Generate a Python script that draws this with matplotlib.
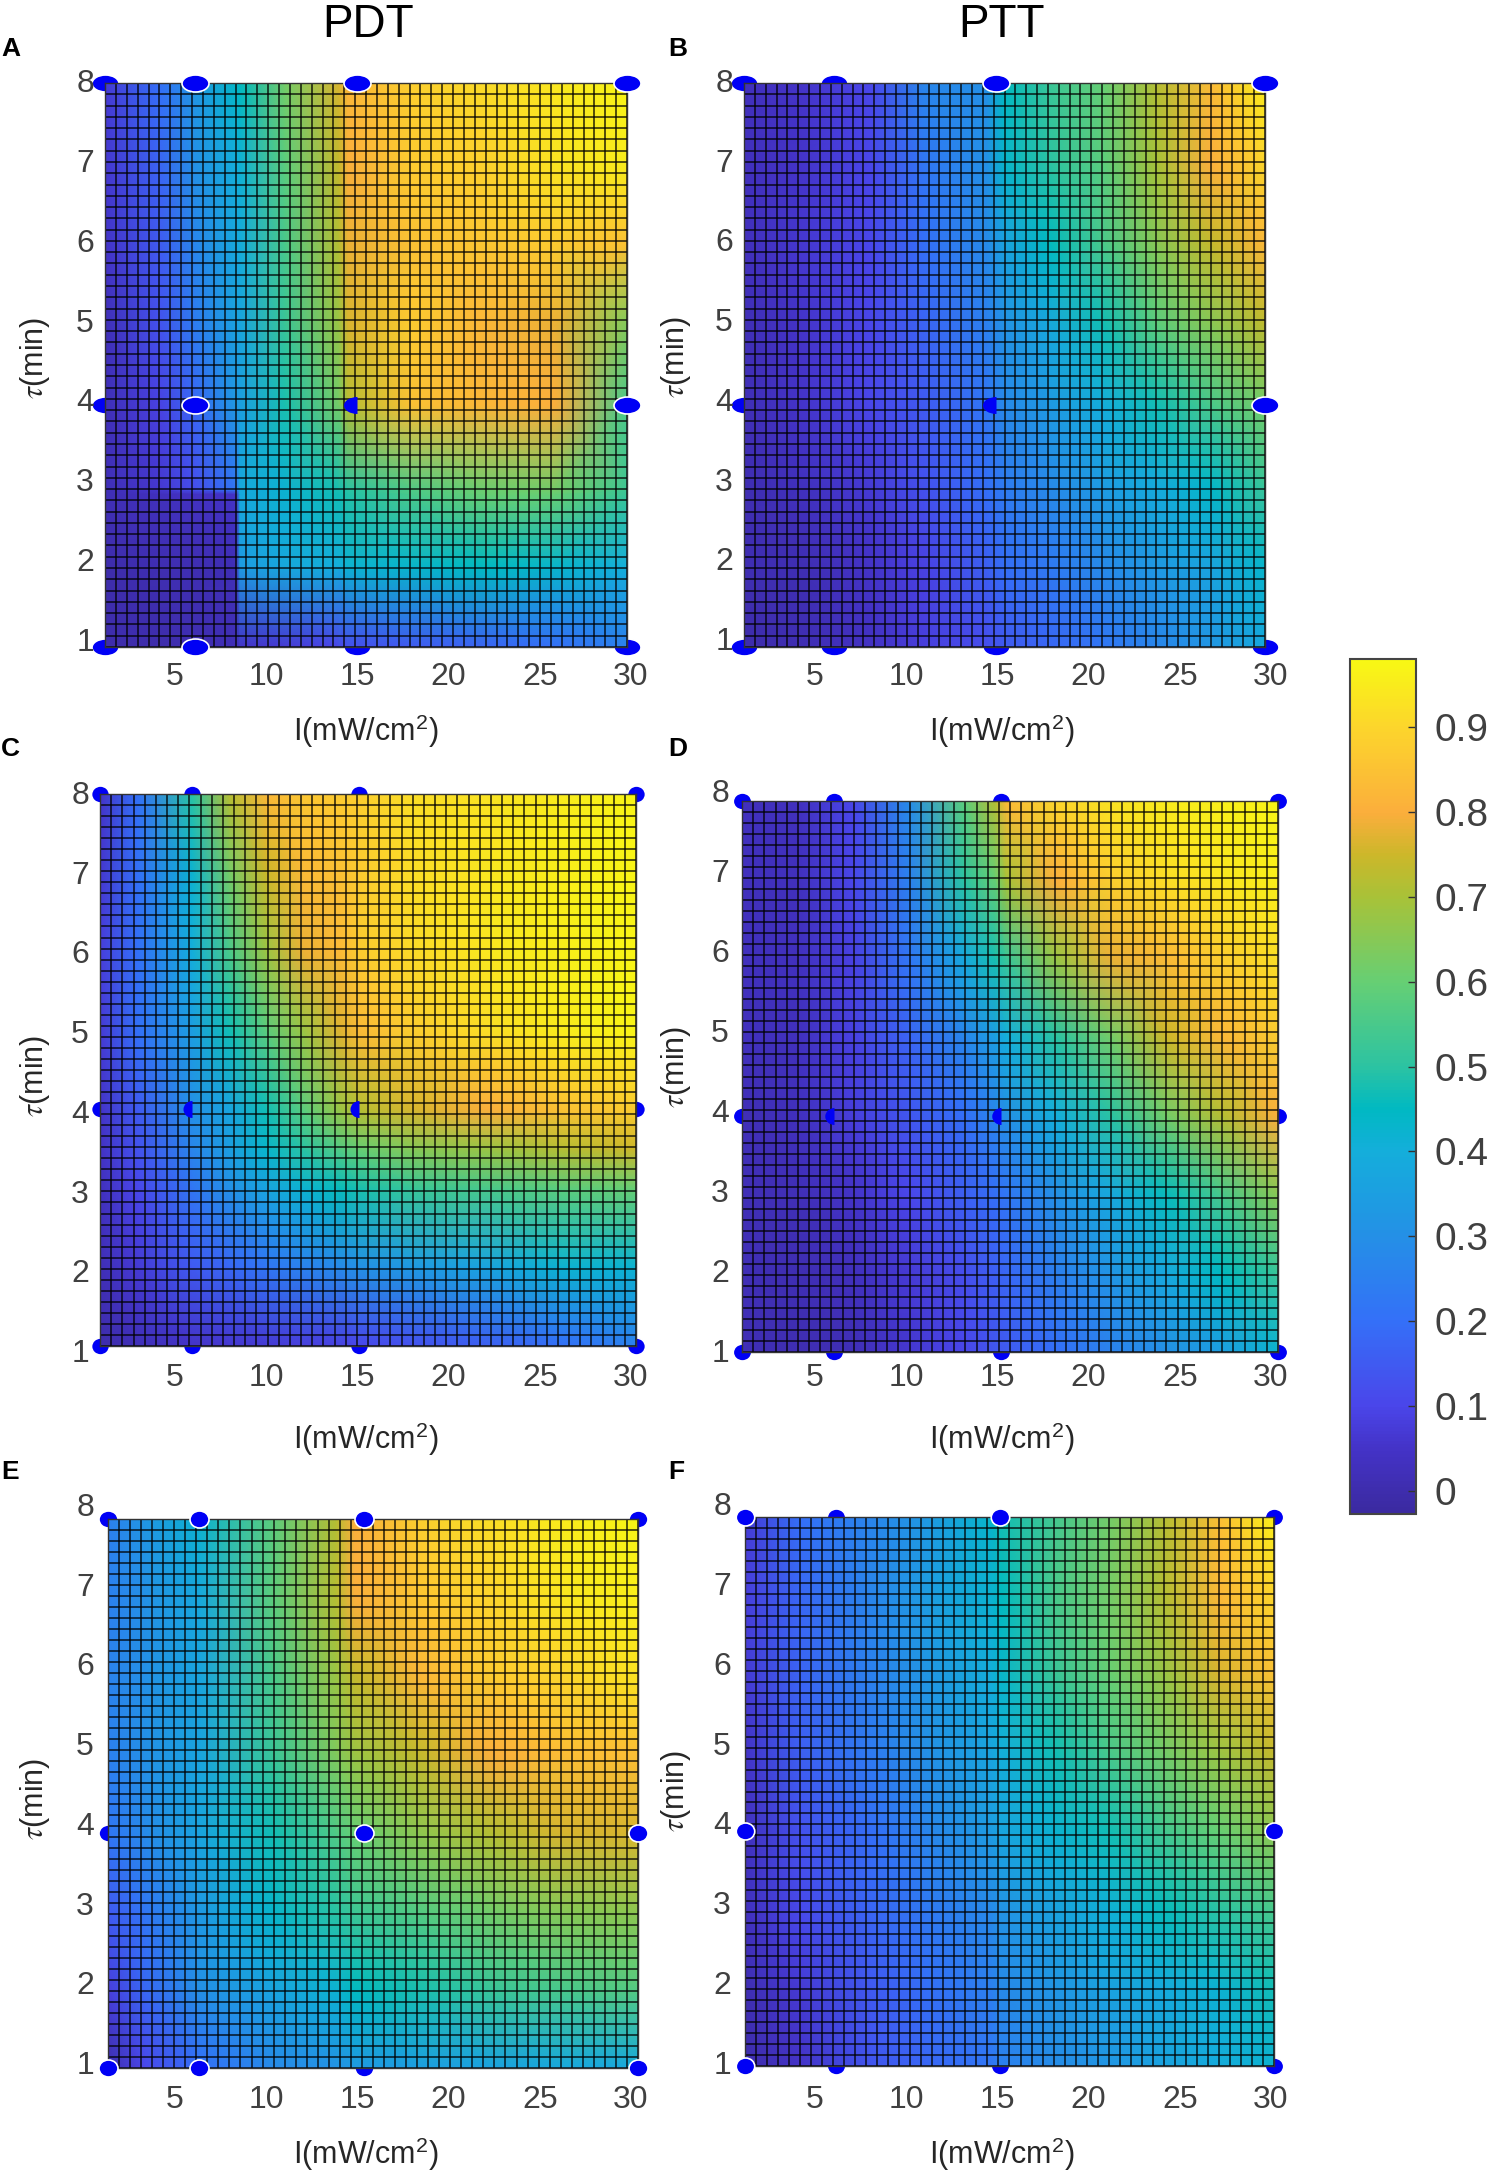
import numpy as np
import matplotlib
matplotlib.use("Agg")
import matplotlib.pyplot as plt
from matplotlib.colors import LinearSegmentedColormap, Normalize
from matplotlib.cm import ScalarMappable
from matplotlib.markers import MarkerStyle
from matplotlib.transforms import Affine2D

plt.rcParams["font.family"] = ["Liberation Sans", "DejaVu Sans"]
plt.rcParams["mathtext.fontset"] = "stix"

W, H = 1493, 2175

# values, rows go from tau low to tau high
A_I = [1, 4, 6, 8.3, 8.5, 11, 14, 14.5, 18, 22, 26, 30]
A_TAU = [1, 2, 2.9, 2.95, 4, 5, 6, 7, 8]
A_Z = [
    [0.00, 0.00, 0.01, 0.02, 0.05, 0.07, 0.10, 0.12, 0.15, 0.17, 0.20, 0.25],
    [0.00, 0.01, 0.01, 0.02, 0.34, 0.38, 0.40, 0.42, 0.43, 0.45, 0.43, 0.40],
    [0.02, 0.03, 0.04, 0.05, 0.38, 0.42, 0.47, 0.49, 0.55, 0.60, 0.60, 0.52],
    [0.02, 0.06, 0.12, 0.22, 0.38, 0.42, 0.48, 0.50, 0.56, 0.61, 0.62, 0.53],
    [0.02, 0.09, 0.18, 0.33, 0.35, 0.48, 0.62, 0.72, 0.85, 0.82, 0.80, 0.55],
    [0.02, 0.13, 0.24, 0.36, 0.37, 0.52, 0.68, 0.76, 0.87, 0.82, 0.78, 0.64],
    [0.05, 0.15, 0.27, 0.38, 0.39, 0.55, 0.72, 0.78, 0.85, 0.86, 0.87, 0.85],
    [0.06, 0.17, 0.30, 0.40, 0.41, 0.58, 0.74, 0.80, 0.87, 0.89, 0.93, 0.95],
    [0.07, 0.20, 0.32, 0.44, 0.45, 0.62, 0.76, 0.82, 0.88, 0.91, 0.94, 0.97],
]

B_I = [1, 4, 8, 11, 14.5, 15.5, 18, 21, 24, 27, 30]
B_TAU = [1, 2, 3, 4, 5, 6, 7, 8]
B_Z = [
    [0.00, 0.01, 0.04, 0.08, 0.12, 0.15, 0.18, 0.22, 0.27, 0.32, 0.38],
    [0.01, 0.01, 0.05, 0.09, 0.16, 0.20, 0.23, 0.28, 0.33, 0.37, 0.43],
    [0.01, 0.03, 0.07, 0.13, 0.20, 0.24, 0.28, 0.34, 0.39, 0.44, 0.52],
    [0.02, 0.05, 0.10, 0.15, 0.22, 0.28, 0.33, 0.40, 0.47, 0.55, 0.62],
    [0.02, 0.05, 0.10, 0.17, 0.25, 0.31, 0.38, 0.47, 0.58, 0.65, 0.73],
    [0.03, 0.06, 0.10, 0.20, 0.28, 0.36, 0.45, 0.55, 0.65, 0.74, 0.82],
    [0.03, 0.05, 0.10, 0.22, 0.30, 0.43, 0.50, 0.58, 0.70, 0.80, 0.90],
    [0.03, 0.05, 0.10, 0.27, 0.30, 0.45, 0.52, 0.60, 0.72, 0.83, 0.95],
]

C_I = [1, 3, 6, 8, 10, 12, 14, 15, 18, 22, 26, 30]
C_TAU = [1, 2, 3, 3.5, 4, 5, 6, 7, 8]
C_Z = [
    [0.00, 0.02, 0.05, 0.06, 0.07, 0.08, 0.09, 0.10, 0.13, 0.16, 0.20, 0.25],
    [0.02, 0.07, 0.15, 0.18, 0.22, 0.26, 0.28, 0.30, 0.33, 0.37, 0.42, 0.42],
    [0.03, 0.10, 0.22, 0.30, 0.37, 0.42, 0.46, 0.48, 0.52, 0.55, 0.58, 0.60],
    [0.04, 0.13, 0.27, 0.35, 0.43, 0.50, 0.57, 0.60, 0.65, 0.68, 0.72, 0.75],
    [0.05, 0.15, 0.30, 0.37, 0.47, 0.58, 0.68, 0.72, 0.76, 0.80, 0.85, 0.87],
    [0.07, 0.20, 0.35, 0.47, 0.58, 0.68, 0.77, 0.83, 0.88, 0.92, 0.95, 0.97],
    [0.08, 0.20, 0.40, 0.55, 0.68, 0.78, 0.83, 0.87, 0.91, 0.94, 0.96, 0.97],
    [0.06, 0.20, 0.42, 0.62, 0.75, 0.83, 0.85, 0.87, 0.92, 0.94, 0.96, 0.97],
    [0.05, 0.20, 0.50, 0.72, 0.82, 0.86, 0.87, 0.88, 0.92, 0.93, 0.95, 0.97],
]

D_I = [1, 4, 7, 10, 13, 14.7, 15.3, 18, 21, 24, 27, 30]
D_TAU = [1, 2, 3, 4, 5, 6, 7, 8]
D_Z = [
    [0.02, 0.01, 0.02, 0.06, 0.10, 0.14, 0.15, 0.20, 0.26, 0.30, 0.35, 0.42],
    [0.02, 0.01, 0.03, 0.07, 0.12, 0.16, 0.18, 0.25, 0.32, 0.38, 0.45, 0.52],
    [0.02, 0.02, 0.05, 0.10, 0.16, 0.20, 0.22, 0.30, 0.38, 0.46, 0.55, 0.65],
    [0.02, 0.03, 0.08, 0.14, 0.20, 0.27, 0.30, 0.40, 0.50, 0.62, 0.72, 0.80],
    [0.03, 0.03, 0.09, 0.17, 0.27, 0.35, 0.40, 0.50, 0.62, 0.75, 0.82, 0.87],
    [0.03, 0.03, 0.09, 0.22, 0.38, 0.48, 0.52, 0.68, 0.78, 0.83, 0.88, 0.92],
    [0.03, 0.03, 0.10, 0.25, 0.50, 0.60, 0.70, 0.80, 0.88, 0.92, 0.94, 0.96],
    [0.03, 0.03, 0.10, 0.28, 0.58, 0.72, 0.83, 0.90, 0.93, 0.95, 0.96, 0.97],
]

E_I = [1, 3, 6, 10, 13.5, 14.5, 18, 22, 26, 30]
E_TAU = [1, 2, 3, 4, 5, 6, 7, 8]
E_Z = [
    [0.00, 0.10, 0.20, 0.28, 0.31, 0.33, 0.35, 0.36, 0.38, 0.38],
    [0.08, 0.18, 0.30, 0.37, 0.42, 0.45, 0.48, 0.52, 0.55, 0.57],
    [0.15, 0.22, 0.33, 0.43, 0.50, 0.53, 0.57, 0.62, 0.65, 0.66],
    [0.22, 0.28, 0.37, 0.47, 0.56, 0.60, 0.66, 0.72, 0.76, 0.76],
    [0.25, 0.30, 0.37, 0.52, 0.64, 0.68, 0.74, 0.80, 0.84, 0.84],
    [0.26, 0.30, 0.37, 0.55, 0.68, 0.74, 0.82, 0.87, 0.90, 0.93],
    [0.25, 0.30, 0.38, 0.58, 0.72, 0.80, 0.86, 0.90, 0.94, 0.96],
    [0.25, 0.32, 0.42, 0.58, 0.72, 0.80, 0.88, 0.92, 0.95, 0.97],
]

F_I = [1, 4, 8, 11, 14.5, 15, 18, 21, 24, 27, 30]
F_TAU = [1, 2, 3, 4, 5, 6, 7, 8]
F_Z = [
    [0.00, 0.05, 0.14, 0.18, 0.22, 0.25, 0.29, 0.32, 0.36, 0.39, 0.42],
    [0.01, 0.07, 0.15, 0.20, 0.25, 0.28, 0.32, 0.36, 0.39, 0.42, 0.47],
    [0.03, 0.11, 0.18, 0.23, 0.28, 0.31, 0.36, 0.41, 0.46, 0.50, 0.55],
    [0.03, 0.13, 0.20, 0.27, 0.34, 0.37, 0.42, 0.47, 0.54, 0.60, 0.66],
    [0.05, 0.16, 0.24, 0.30, 0.37, 0.40, 0.47, 0.55, 0.62, 0.68, 0.74],
    [0.07, 0.17, 0.26, 0.32, 0.40, 0.43, 0.52, 0.60, 0.68, 0.76, 0.85],
    [0.08, 0.18, 0.27, 0.34, 0.42, 0.45, 0.55, 0.62, 0.72, 0.82, 0.90],
    [0.07, 0.20, 0.27, 0.33, 0.43, 0.47, 0.54, 0.62, 0.72, 0.84, 0.96],
]

X_TICKS = [5, 10, 15, 20, 25, 30]
Y_TICKS = [1, 2, 3, 4, 5, 6, 7, 8]
CBAR_TICKS = [0, 0.1, 0.2, 0.3, 0.4, 0.5, 0.6, 0.7, 0.8, 0.9]
CBAR_LABELS = ["0", "0.1", "0.2", "0.3", "0.4", "0.5", "0.6", "0.7", "0.8", "0.9"]

# measured sample points, some sit behind the surface
A_PTS = {"under": [(1, 8), (1, 4), (1, 1), (15, 1), (30, 1)],
         "over": [(6, 8), (15, 8), (30, 8), (6, 4), (30, 4), (6, 1)],
         "half": [(15, 4)]}
B_PTS = {"under": [(1, 8), (1, 4), (1, 1), (6, 1), (6, 8), (15, 1), (30, 1)],
         "over": [(15, 8), (30, 8), (30, 4)],
         "half": [(15, 4)]}
C_PTS = {"under": [(1, 8), (1, 4), (1, 1), (6, 1), (15, 1), (15, 8), (30, 8), (30, 1), (6, 8), (30, 4)],
         "over": [],
         "half": [(6, 4), (15, 4)]}
D_PTS = {"under": [(1, 8), (1, 4), (1, 1), (6, 8), (15, 8), (6, 1), (15, 1), (30, 1), (30, 8), (30, 4)],
         "over": [],
         "half": [(6, 4), (15, 4)]}
E_PTS = {"under": [(1, 8), (1, 4), (15, 1), (30, 8)],
         "over": [(6, 8), (15, 8), (15, 4), (1, 1), (6, 1), (30, 1), (30, 4)],
         "half": []}
F_PTS = {"under": [(6, 8), (6, 1), (15, 1), (30, 8), (30, 1)],
         "over": [(1, 8), (15, 8), (1, 4), (30, 4), (1, 1)],
         "half": []}

panels = [
    dict(name="A", I=A_I, tau=A_TAU, z=A_Z, pts=A_PTS, box=(105, 83, 627, 647), mw=27,
         xt=(175, 631, 677), yt=(84, 643, 94), xl=(366, 731), yl=(35, 358), tag=(1, 49)),
    dict(name="B", I=B_I, tau=B_TAU, z=B_Z, pts=B_PTS, box=(744, 83, 1265, 647), mw=27,
         xt=(815, 1271, 677), yt=(84, 642, 733), xl=(1002, 731), yl=(676, 357), tag=(668, 49)),
    dict(name="C", I=C_I, tau=C_TAU, z=C_Z, pts=C_PTS, box=(100, 794, 636, 1346), mw=18,
         xt=(175, 631, 1378), yt=(796, 1354, 89), xl=(366, 1439), yl=(35, 1076), tag=(1, 749)),
    dict(name="D", I=D_I, tau=D_TAU, z=D_Z, pts=D_PTS, box=(742, 801, 1278, 1352), mw=18.5,
         xt=(815, 1271, 1378), yt=(794, 1354, 729), xl=(1002, 1439), yl=(676, 1067), tag=(668, 749)),
    dict(name="E", I=E_I, tau=E_TAU, z=E_Z, pts=E_PTS, box=(108, 1519, 638, 2068), mw=19,
         xt=(175, 631, 2100), yt=(1508, 2066, 94), xl=(366, 2154), yl=(35, 1799), tag=(1, 1472)),
    dict(name="F", I=F_I, tau=F_TAU, z=F_Z, pts=F_PTS, box=(745, 1517, 1274, 2066), mw=18.5,
         xt=(815, 1271, 2100), yt=(1507, 2066, 731), xl=(1002, 2154), yl=(676, 1791), tag=(668, 1472)),
]

VMIN, VMAX = -0.027, 0.98
stops = [(-0.027, "#3b2aa0"), (0.05, "#4433c8"), (0.1, "#4a46ea"), (0.2, "#3470f8"),
         (0.3, "#2490e6"), (0.4, "#14aedb"), (0.45, "#00b9c2"), (0.5, "#2cc3a2"),
         (0.6, "#66cf74"), (0.7, "#a8c238"), (0.75, "#ccb72a"), (0.8, "#fbae3c"),
         (0.9, "#fcd52c"), (0.98, "#f8f814")]
cmap = LinearSegmentedColormap.from_list(
    "surf", [((v - VMIN) / (VMAX - VMIN), c) for v, c in stops])
norm = Normalize(VMIN, VMAX)


def fx(px):
    return px / W


def fy(px):
    return 1 - px / H


def draw_points(ax, pts, width, height=17.0):
    shape = Affine2D().scale(width / height, 1)
    styles = [("under", "full", 1, 1.2), ("over", "full", 6, 1.2), ("half", "left", 6, 0)]
    for key, fill, order, edge in styles:
        if not pts[key]:
            continue
        xs, ys = zip(*pts[key])
        ax.plot(xs, ys, ls="none", clip_on=False, zorder=order,
                marker=MarkerStyle("o", fill, shape), ms=height * 0.72,
                mfc="#0000f5", mfcalt="none", mec="white", mew=edge)


fig = plt.figure(figsize=(W / 100, H / 100), dpi=100)

for p in panels:
    x0, y0, x1, y1 = p["box"]
    ax = fig.add_axes([fx(x0), fy(y1), (x1 - x0) / W, (y1 - y0) / H])
    ax.pcolormesh(p["I"], p["tau"], np.array(p["z"]), shading="gouraud",
                  cmap=cmap, norm=norm, zorder=2)
    ax.set_xlim(1, 30)
    ax.set_ylim(1, 8)

    # cell lines of the surface
    ax.set_xticks(np.linspace(1, 30, 49), minor=True)
    ax.set_yticks(np.linspace(1, 8, 51), minor=True)
    ax.set_xticks([])
    ax.set_yticks([])
    ax.grid(which="minor", color="black", lw=1.1, alpha=0.85)
    ax.set_axisbelow(False)
    ax.tick_params(which="both", length=0, labelbottom=False, labelleft=False)
    for s in ax.spines.values():
        s.set_color("#333333")
        s.set_linewidth(1.0)
        s.set_zorder(3)

    draw_points(ax, p["pts"], p["mw"])

    # tick labels do not sit exactly on the axes in this figure, so place them by hand
    xa, xb, xy = p["xt"]
    for t in X_TICKS:
        fig.text(fx(xa + (t - 5) / 25 * (xb - xa)), fy(xy), str(t), fontsize=23,
                 color="#404040", ha="center", va="center")
    ya, yb, yr = p["yt"]
    for t in Y_TICKS:
        fig.text(fx(yr), fy(ya + (8 - t) / 7 * (yb - ya)), str(t), fontsize=23,
                 color="#404040", ha="right", va="center")

    fig.text(fx(p["xl"][0]), fy(p["xl"][1]), r"I(mW/cm$^{\mathregular{2}}$)", fontsize=22,
             color="#262626", ha="center", va="center")
    fig.text(fx(p["yl"][0]), fy(p["yl"][1]), r"$\tau$(min)", fontsize=22, rotation=90,
             color="#262626", ha="center", va="center")
    fig.text(fx(p["tag"][0]), fy(p["tag"][1]), p["name"], fontsize=19, fontweight="bold",
             color="black", ha="left", va="center")

fig.text(fx(368), fy(25), "PDT", fontsize=33, ha="center", va="center")
fig.text(fx(1002), fy(25), "PTT", fontsize=33, ha="center", va="center")

cax = fig.add_axes([fx(1350), fy(1514), 66 / W, 855 / H])
cbar = fig.colorbar(ScalarMappable(norm=norm, cmap=cmap), cax=cax, ticks=CBAR_TICKS)
cbar.ax.set_yticklabels(CBAR_LABELS)
cbar.ax.tick_params(direction="in", length=6, width=1, color="#333333",
                    labelsize=28, labelcolor="#404040", pad=13)
cbar.outline.set_edgecolor("#444444")
cbar.outline.set_linewidth(1.5)

fig.savefig("out.png", dpi=100)
